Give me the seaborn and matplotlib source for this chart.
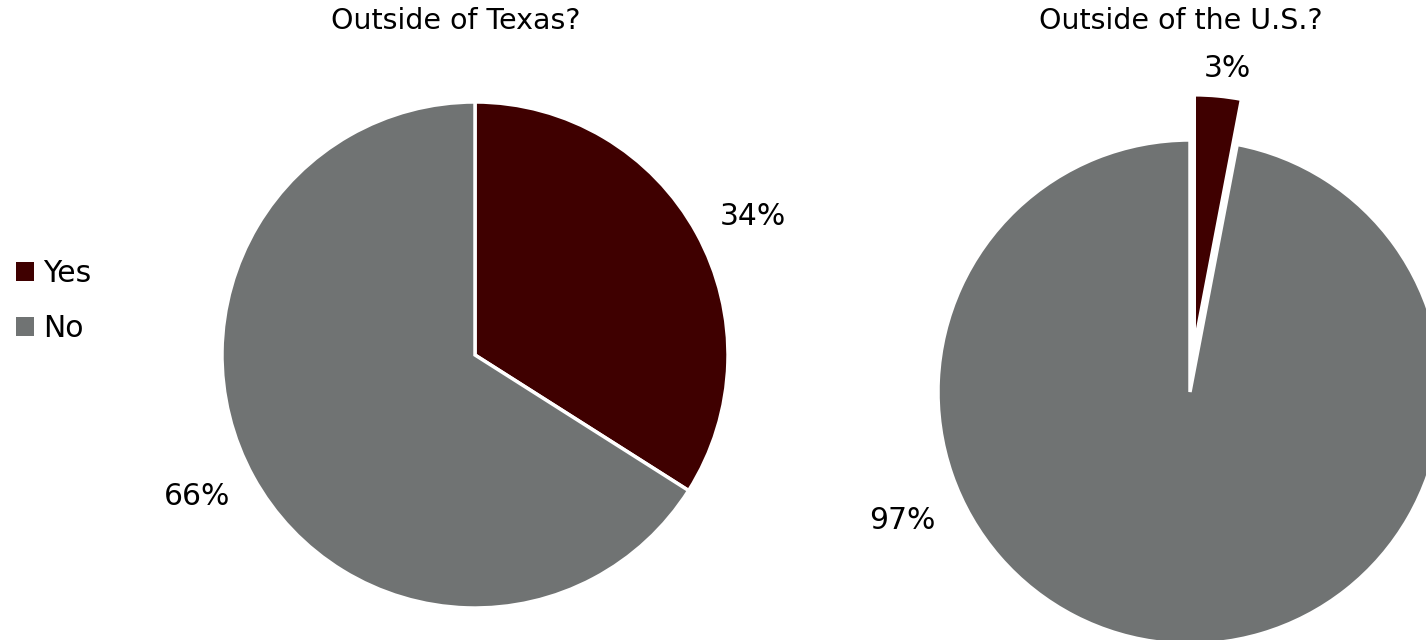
import numpy as np
import matplotlib
matplotlib.use("Agg")
import matplotlib.pyplot as plt
import seaborn as sns
from matplotlib.patches import Patch

categories = ["Yes", "No"]
texas_values = [34, 66]
us_values = [3, 97]
titles = ["Outside of Texas?", "Outside of the U.S.?"]
colors = ["#3F0000", "#707373"]

# label layout (angle in degrees, distance in radii from pie centre)
texas_label_pos = [(26.4, 1.227), (206.9, 1.232)]
us_label_pos = [(83.5, 1.294), (204.1, 1.252)]

sns.set_theme(style="white")
plt.rcParams["font.family"] = ["DejaVu Sans"]
plt.rcParams["text.color"] = "black"

W, H = 1426, 640
fig = plt.figure(figsize=(W / 100, H / 100), dpi=100)
fig.patch.set_facecolor("white")

LIM = 1.5
LABEL_FS = 21.5
TITLE_FS = 20.5

def pie_axes(cx, cy, r):
    half = r * LIM
    ax = fig.add_axes([(cx - half) / W, (H - cy - half) / H, 2 * half / W, 2 * half / H])
    return ax

def add_labels(ax, values, positions):
    for v, (ang, dist) in zip(values, positions):
        a = np.deg2rad(ang)
        ax.text(dist * np.cos(a), dist * np.sin(a), f"{v}%",
                ha="center", va="center", fontsize=LABEL_FS, color="black")

# Left pie
ax1 = pie_axes(475, 355, 253)
ax1.pie(texas_values, colors=colors, startangle=90, counterclock=False,
        wedgeprops=dict(edgecolor="white", linewidth=2.5))
ax1.set_xlim(-LIM, LIM)
ax1.set_ylim(-LIM, LIM)
ax1.set_aspect("equal")
ax1.axis("off")
add_labels(ax1, texas_values, texas_label_pos)

# Right pie
ax2 = pie_axes(1190, 392, 252)
explode = [0.18, 0]
ax2.pie(us_values, colors=colors, startangle=90, counterclock=False,
        explode=explode, wedgeprops=dict(edgecolor="white", linewidth=2.5))
ax2.set_xlim(-LIM, LIM)
ax2.set_ylim(-LIM, LIM)
ax2.set_aspect("equal")
ax2.axis("off")
add_labels(ax2, us_values, us_label_pos)

fig.text(456 / W, 1 - 21 / H, titles[0], ha="center", va="center", fontsize=TITLE_FS, color="black")
fig.text(1181 / W, 1 - 21 / H, titles[1], ha="center", va="center", fontsize=TITLE_FS, color="black")

handles = [Patch(facecolor=c, edgecolor="none") for c in colors]
leg = fig.legend(handles, categories, loc="center left", bbox_to_anchor=(0.0, 1 - 301 / H),
                 frameon=False, fontsize=LABEL_FS, handlelength=0.6, handleheight=0.6,
                 handletextpad=0.3, labelspacing=0.85, borderaxespad=0.15)
for t in leg.get_texts():
    t.set_color("black")

fig.savefig("out.png", dpi=100, facecolor="white")
